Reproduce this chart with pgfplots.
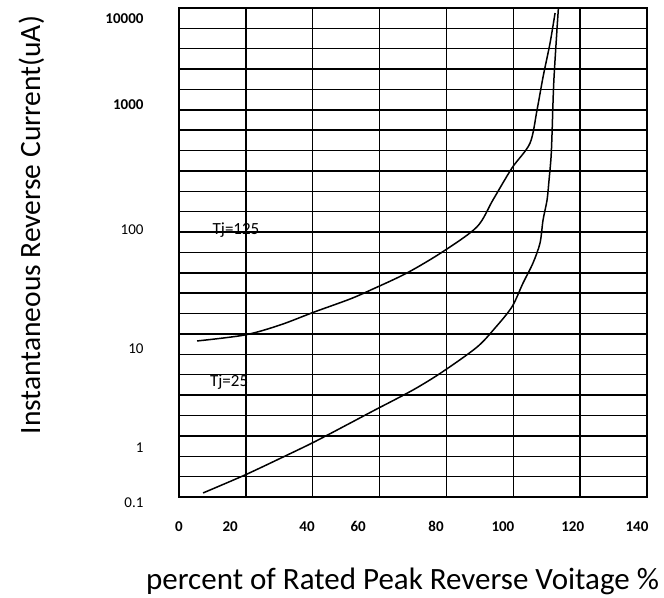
\documentclass[border=0pt]{standalone}
\usepackage{fontspec}
\setmainfont{Carlito}
\usepackage{pgfplots}
\usepackage{pgfplotstable}
\pgfplotsset{compat=1.18}
% percent of rated peak reverse voltage (x), current in uA (I)
\pgfplotstableread{
x I
5.4 11.5
19.7 12.9
30.2 15.6
40.4 20.0
51.2 25.7
58.0 31.1
68.2 42.3
78.7 63
89.1 102
93.9 168
99.6 304
105.0 482
107.1 890
108.9 2090
111.0 5330
112.5 12200
}\tjhot
\pgfplotstableread{
x I
7.2 0.153
19.7 0.324
31.1 0.687
40.4 1.15
51.2 1.78
58.0 2.35
70.0 3.82
78.7 5.77
89.1 10.2
94.5 14.7
99.6 22.1
102.9 34.8
105.9 51.2
108.0 75.1
108.9 116
110.1 168
110.7 244
111.3 373
111.6 582
112.1 1770
113.0 7010
113.5 14000
}\tjcold
\begin{document}
\begin{tikzpicture}
\useasboundingbox (-179bp,-101bp) rectangle (485bp,497bp);
\begin{axis}[
  scale only axis, width=468bp, height=489bp,
  xmin=0, xmax=140, ymin=0, ymax=24,
  clip mode=individual,
  declare function={
    Lg(\v)=ln(\v)/ln(10);
    P(\l)=(\l<0) ? (-0.3+2.7*(\l+1)) : ((\l<1) ? (2.4+4.9*\l) : ((\l<2) ? (7.3+5.9*(\l-1)) : ((\l<3) ? (13.2+6.1*(\l-2)) : (19.3+4.1*(\l-3)))));
  },
  xtick={0,20,...,140}, xticklabels={},
  ytick={0,1,...,24}, yticklabels={},
  grid=major, major grid style={black, line width=1.5bp},
  axis line style={black, line width=1.5bp},
  major tick length=0pt,
  extra x ticks={0,15.3,38.3,53.6,76.9,96.9,117.8,137.0},
  extra x tick labels={0,20,40,60,80,100,120,140},
  extra x tick style={grid=none, xticklabel style={font=\bfseries\fontsize{15bp}{15bp}\selectfont, anchor=base, yshift=-34bp}},
  extra y ticks={23.5,19.24,13.1,7.26,2.4},
  extra y tick labels={\textbf{10000},\textbf{1000},100,10,1},
  extra y tick style={grid=none, yticklabel style={font=\fontsize{15bp}{15bp}\selectfont, anchor=east, xshift=-32bp}},
  xlabel={percent of Rated Peak Reverse Voitage \%},
  ylabel={Instantaneous Reverse Current(uA)},
  xlabel style={at={(axis description cs:0.4776,-0.190)}, anchor=base, font=\fontsize{31bp}{31bp}\selectfont},
  ylabel style={at={(axis description cs:-0.297,0.556)}, anchor=base, rotate=0, font=\fontsize{29.5bp}{29.5bp}\selectfont},
]
\addplot[black, line width=1.5bp, smooth, tension=0.5] table[x=x, y expr={P(Lg(\thisrow{I}))}] {\tjhot};
\addplot[black, line width=1.5bp, smooth, tension=0.5] table[x=x, y expr={P(Lg(\thisrow{I}))}] {\tjcold};
\node[font=\fontsize{17bp}{17bp}\selectfont] at (axis cs:17.05,13.1) {Tj=125};
\node[font=\fontsize{17bp}{17bp}\selectfont] at (axis cs:15.0,5.64) {Tj=25};
\node[font=\fontsize{15bp}{15bp}\selectfont, anchor=east] at (axis cs:0,-0.29) [xshift=-32bp] {0.1};
\end{axis}
\end{tikzpicture}
\end{document}
